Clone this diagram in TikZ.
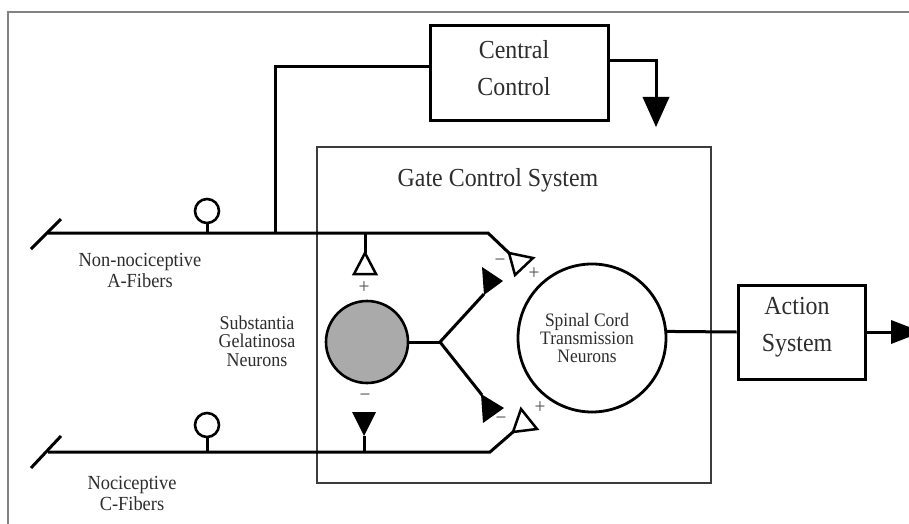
\documentclass[tikz,border=0pt]{standalone}
\usepackage{fontspec}
\setmainfont{Liberation Serif}[FakeStretch=0.92]
\definecolor{txt}{RGB}{45,45,45}
\definecolor{sgfill}{RGB}{170,170,170}
\definecolor{framegray}{RGB}{130,130,130}
\definecolor{boxgray}{RGB}{60,60,60}
\definecolor{signgray}{RGB}{80,80,80}
\begin{document}
\begin{tikzpicture}[x=1pt,y=-1pt,
  thickline/.style={line width=3pt, line cap=butt, line join=miter},
  opentri/.style={draw, line width=2.5pt, line join=miter, fill=white},
  blockbox/.style={draw, line width=3pt, inner sep=0pt},
  gatebox/.style={draw=boxgray, line width=1.6pt, inner sep=0pt},
  bigtext/.style={text=txt, inner sep=0pt, align=center, font=\fontsize{26}{37}\selectfont},
  fibertext/.style={text=txt, inner sep=0pt, align=center, font=\fontsize{20}{21}\selectfont},
  sgtext/.style={text=txt, inner sep=0pt, align=center, font=\fontsize{19.5}{18.5}\selectfont},
  sctext/.style={text=txt, inner sep=0pt, align=center, font=\fontsize{19}{18}\selectfont},
  signtext/.style={text=signgray, inner sep=0pt, font=\fontsize{21}{21}\selectfont},
  knob/.style={circle, draw, line width=2.6pt, minimum size=24pt, inner sep=0pt, fill=white},
  sgcircle/.style={circle, draw, line width=2.6pt, fill=sgfill, minimum size=82pt, inner sep=0pt},
  sccircle/.style={circle, draw, line width=2.8pt, minimum size=148pt, inner sep=0pt}
]
\clip (0,0) rectangle (909,524);
\fill[white] (0,0) rectangle (909,524);
\draw[framegray, line width=2pt] (930,12) -- (8,12) -- (8,540);

% main blocks
\node[gatebox, minimum width=394pt, minimum height=336pt] (gcs) at (514,315) {};
\node[bigtext] (gcstitle) at (498,180) {Gate Control System};
\node[blockbox, minimum width=178pt, minimum height=94pt] (cc) at (519,73) {};
\node[bigtext] (cctext) at (514,68) {Central\\Control};
\node[blockbox, minimum width=127pt, minimum height=94pt] (act) at (801.5,332) {};
\node[bigtext] (acttext) at (797,327) {Action\\System};
\node[sgcircle] (sg) at (367,342) {};
\node[sccircle] (sc) at (592,338) {};
\node[sctext] (sclabel) at (587,338) {Spinal Cord\\Transmission\\Neurons};

% labels
\node[fibertext] (alabel) at (140,270) {Non-nociceptive\\A-Fibers};
\node[fibertext] (clabel) at (132,493) {Nociceptive\\C-Fibers};
\node[sgtext] (sglabel) at (257,341) {Substantia\\Gelatinosa\\Neurons};

% A fibre
\coordinate (aStart) at (48,233);
\coordinate (aEnd) at (488,233);
\coordinate (aTerm) at (509,253);
\coordinate (aS1) at (31,249);
\coordinate (aS2) at (61,219);
\draw[thickline] (aStart) -- (aEnd) -- (aTerm);
\draw[thickline] (aS1) -- (aS2);
\node[knob] (aKnob) at (207,211) {};
\draw[thickline] (aKnob.south) -- (aKnob.south |- aStart);
\draw[opentri] (aTerm) -- (533,258) -- (515,275) -- cycle;

% C fibre
\coordinate (cStart) at (48,452);
\coordinate (cEnd) at (490,452);
\coordinate (cTerm) at (513,432);
\coordinate (cS1) at (31,468);
\coordinate (cS2) at (61,436);
\draw[thickline] (cStart) -- (cEnd) -- (cTerm);
\draw[thickline] (cS1) -- (cS2);
\node[knob] (cKnob) at (207,425) {};
\draw[thickline] (cKnob.south) -- (cKnob.south |- cStart);
\draw[opentri] (cTerm) -- (521,409) -- (537,429) -- cycle;

% central control links
\coordinate (aJ) at (275,233);
\draw[thickline] ([yshift=6pt]cc.west) -| (aJ);
\coordinate (ccArrow) at (656,98);
\draw[thickline] ([yshift=12pt]cc.east) -| (ccArrow);
\fill (642.5,97) -- (669.5,97) -- (656,127) -- cycle;

% A -> SG (excitatory, open)
\coordinate (aSGj) at (365,233);
\coordinate (aSGtip) at (365,253);
\draw[thickline] (aSGj) -- (aSGtip);
\draw[opentri] (aSGtip) -- (354,274) -- (376,274) -- cycle;
\node[signtext] (sgplus) at (364,288) {+};

% C -> SG (inhibitory, filled)
\coordinate (cSGj) at (364,452);
\coordinate (cSGtip) at (364,436);
\draw[thickline] (cSGj) -- (cSGtip);
\fill (352,412) -- (376,412) -- (cSGtip) -- cycle;
\node[signtext] (sgminus) at (365,398) {−};

% SG output branches
\coordinate (yj) at (440,342);
\coordinate (upEnd) at (484,294);
\coordinate (dnEnd) at (482,395);
\draw[thickline] (sg.east) -- (yj);
\draw[thickline] (yj) -- (upEnd);
\draw[thickline] (yj) -- (dnEnd);
\fill (482,267) -- (503,281) -- (484,295) -- cycle;
\fill (481,394) -- (504,408) -- (483,423) -- cycle;

% signs at terminals
\node[signtext] (m1) at (500,263) {−};
\node[signtext] (p1) at (534,274) {+};
\node[signtext] (m2) at (501,421) {−};
\node[signtext] (p2) at (540,408) {+};

% output
\draw[thickline] (sc.5) -- (act.west);
\coordinate (outBase) at (892,332);
\draw[thickline] (act.east) -- (outBase);
\fill (891,320) -- (891,344) -- (922,332) -- cycle;
\end{tikzpicture}
\end{document}
